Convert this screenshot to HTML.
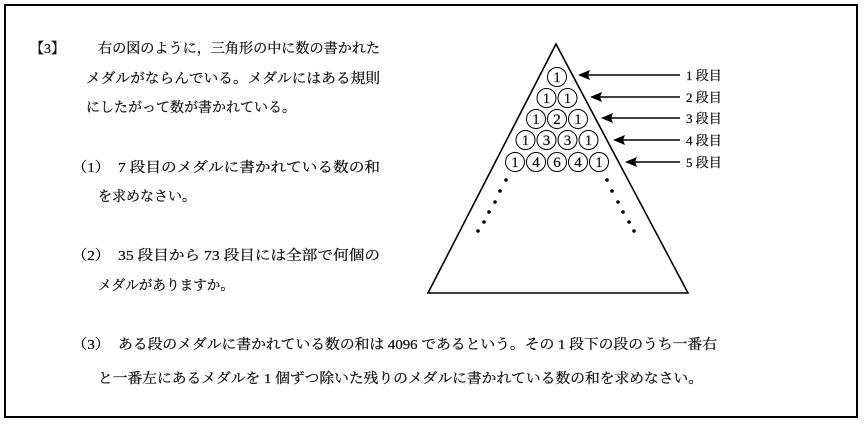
<!DOCTYPE html>
<html><head><meta charset="utf-8"><style>
html,body{margin:0;padding:0;background:#fff;}
svg{display:block;}
text{font-family:"Liberation Serif","Noto Serif CJK SC",serif;fill:#111;stroke:#111;stroke-width:0.25;}
</style></head><body>
<svg width="865" height="426" viewBox="0 0 865 426" xmlns="http://www.w3.org/2000/svg">
<rect x="5" y="5" width="852" height="412" fill="none" stroke="#000" stroke-width="2"/>
<g font-size="14">
<text x="30" y="53">【3】</text>
<text x="98" y="53" textLength="282" lengthAdjust="spacingAndGlyphs">右の図のように，三角形の中に数の書かれた</text>
<text x="86" y="83" textLength="294" lengthAdjust="spacingAndGlyphs">メダルがならんでいる。メダルにはある規則</text>
<text x="86" y="112" textLength="210" lengthAdjust="spacingAndGlyphs">にしたがって数が書かれている。</text>
<text x="72" y="172" textLength="38" lengthAdjust="spacingAndGlyphs">（1）</text>
<text x="118" y="172" textLength="262" lengthAdjust="spacingAndGlyphs">7 段目のメダルに書かれている数の和</text>
<text x="98" y="201" textLength="98" lengthAdjust="spacingAndGlyphs">を求めなさい。</text>
<text x="72" y="260" textLength="38" lengthAdjust="spacingAndGlyphs">（2）</text>
<text x="118" y="260" textLength="262" lengthAdjust="spacingAndGlyphs">35 段目から 73 段目には全部で何個の</text>
<text x="98" y="290" textLength="136" lengthAdjust="spacingAndGlyphs">メダルがありますか。</text>
<text x="72" y="349" textLength="38" lengthAdjust="spacingAndGlyphs">（3）</text>
<text x="118" y="349" textLength="599" lengthAdjust="spacingAndGlyphs">ある段のメダルに書かれている数の和は 4096 であるという。その 1 段下の段のうち一番右</text>
<text x="98" y="383" textLength="605" lengthAdjust="spacingAndGlyphs">と一番左にあるメダルを 1 個ずつ除いた残りのメダルに書かれている数の和を求めなさい。</text>
</g>
<polygon points="556,44 428,293 688,293" fill="none" stroke="#000" stroke-width="1.6"/>
<g fill="none" stroke="#000" stroke-width="1">
<circle cx="557" cy="77" r="9.5"/>
<circle cx="546.5" cy="98" r="9.5"/><circle cx="567.5" cy="98" r="9.5"/>
<circle cx="536" cy="119" r="9.5"/><circle cx="557" cy="119" r="9.5"/><circle cx="578" cy="119" r="9.5"/>
<circle cx="525.5" cy="140" r="9.5"/><circle cx="546.5" cy="140" r="9.5"/><circle cx="567.5" cy="140" r="9.5"/><circle cx="588.5" cy="140" r="9.5"/>
<circle cx="515" cy="162" r="9.5"/><circle cx="536" cy="162" r="9.5"/><circle cx="557" cy="162" r="9.5"/><circle cx="578" cy="162" r="9.5"/><circle cx="599" cy="162" r="9.5"/>
</g>
<g font-size="15" text-anchor="middle" style="font-family:'Liberation Sans',sans-serif">
<text x="557" y="82">1</text>
<text x="546.5" y="103">1</text><text x="567.5" y="103">1</text>
<text x="536" y="124">1</text><text x="557" y="124">2</text><text x="578" y="124">1</text>
<text x="525.5" y="145">1</text><text x="546.5" y="145">3</text><text x="567.5" y="145">3</text><text x="588.5" y="145">1</text>
<text x="515" y="167">1</text><text x="536" y="167">4</text><text x="557" y="167">6</text><text x="578" y="167">4</text><text x="599" y="167">1</text>
</g>
<g stroke="#000" stroke-width="1.4">
<line x1="584" y1="75" x2="680" y2="75"/>
<line x1="596" y1="97" x2="680" y2="97"/>
<line x1="607" y1="118" x2="680" y2="118"/>
<line x1="619" y1="140" x2="680" y2="140"/>
<line x1="631" y1="162" x2="680" y2="162"/>
</g>
<g fill="#000">
<polygon points="578,75 590,70 588,75 590,80"/>
<polygon points="590,97 602,92 600,97 602,102"/>
<polygon points="601,118 613,113 611,118 613,123"/>
<polygon points="613,140 625,135 623,140 625,145"/>
<polygon points="625,162 637,157 635,162 637,167"/>
</g>
<g font-size="13">
<text x="686" y="80">1 段目</text>
<text x="686" y="102">2 段目</text>
<text x="686" y="123">3 段目</text>
<text x="686" y="145">4 段目</text>
<text x="686" y="167">5 段目</text>
</g>
<g fill="#000">
<circle cx="506" cy="180" r="1.8"/><circle cx="500" cy="191" r="1.8"/><circle cx="495" cy="202" r="1.8"/><circle cx="489" cy="212" r="1.8"/><circle cx="484" cy="222" r="1.8"/><circle cx="478" cy="231" r="1.8"/>
<circle cx="607" cy="180" r="1.8"/><circle cx="612" cy="191" r="1.8"/><circle cx="618" cy="202" r="1.8"/><circle cx="623" cy="212" r="1.8"/><circle cx="629" cy="222" r="1.8"/><circle cx="634" cy="231" r="1.8"/>
</g>
</svg>
</body></html>
